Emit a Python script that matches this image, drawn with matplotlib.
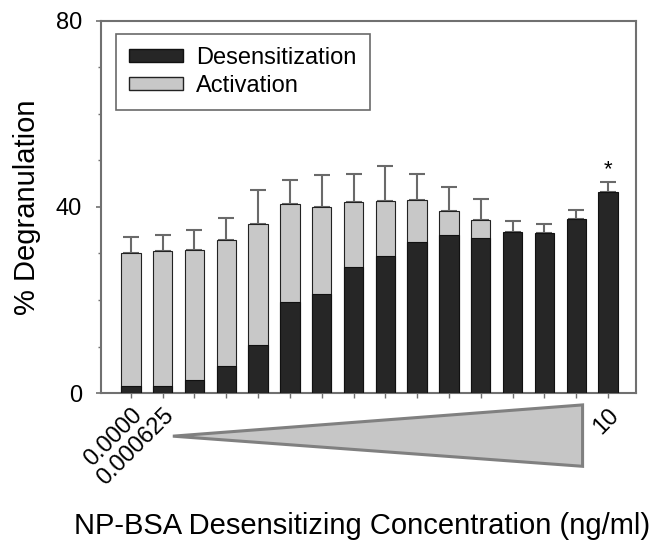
import numpy as np
import matplotlib
matplotlib.use("Agg")
import matplotlib.pyplot as plt
from matplotlib.patches import Patch, Polygon
import matplotlib.transforms as mtransforms

plt.rcParams['font.family'] = ['Liberation Sans', 'DejaVu Sans']

# Data
desensitization = [1.6, 1.4, 2.9, 5.9, 10.4, 19.5, 21.3, 27.0, 29.4, 32.5, 34.0, 33.4, 34.6, 34.3, 37.4, 43.2]
activation = [30.2, 30.6, 30.7, 32.8, 36.4, 40.7, 40.1, 41.1, 41.3, 41.6, 39.1, 37.3,
              np.nan, np.nan, np.nan, np.nan]
errors = [3.3, 3.3, 4.4, 4.8, 7.2, 5.0, 6.7, 6.0, 7.6, 5.5, 5.2, 4.5, 2.4, 2.0, 2.0, 2.1]
tick_labels = ["0.0000", "0.000625", "", "", "", "", "", "", "", "", "", "", "", "", "", "10"]
significant = [False] * 15 + [True]

x = np.arange(len(desensitization))
des = np.array(desensitization)
act = np.array(activation)
top = np.where(np.isnan(act), des, np.fmax(act, des))

fig = plt.figure(figsize=(6.63, 5.42), dpi=100)
ax = fig.add_axes([0.1523, 0.2749, 0.8070, 0.6864])

spine_col = '#707070'
w = 0.61
ax.bar(x, np.nan_to_num(act), width=w, color='#c8c8c8', edgecolor='#222222', linewidth=0.8, zorder=2)
ax.bar(x, des, width=w, color='#262626', edgecolor='#111111', linewidth=0.8, zorder=3)
ax.errorbar(x, top, yerr=[np.zeros_like(top), np.array(errors)], fmt='none',
            ecolor='#6a6a6a', elinewidth=1.5, capsize=5.5, capthick=1.5, zorder=1)

for xi, t, e, s in zip(x, top, errors, significant):
    if s:
        ax.text(xi, t + e + 0.5, '*', ha='center', va='bottom', fontsize=16)

ax.set_xlim(-0.94, 15.88)
ax.set_ylim(0, 80)
ax.set_yticks([0, 40, 80])
ax.set_yticks(np.arange(0, 81, 10), minor=True)
ax.set_xticks(x)
ax.set_xticklabels(tick_labels, rotation=45, ha='right', va='top', rotation_mode='anchor', fontsize=17)
ax.tick_params(axis='y', which='major', length=3.6, width=1.2, color=spine_col, labelsize=17, pad=10)
ax.tick_params(axis='y', which='minor', length=2, width=1.0, color=spine_col)
ax.tick_params(axis='x', which='major', length=3.6, width=1.0, color=spine_col, pad=4.5)

for sp in ax.spines.values():
    sp.set_color(spine_col)
    sp.set_linewidth(1.5)

ax.set_ylabel('% Degranulation', fontsize=21)
ax.yaxis.set_label_coords(-0.113, 0.5)
fig.text(0.546, 0.004, 'NP-BSA Desensitizing Concentration (ng/ml)', ha='center', va='bottom', fontsize=21)

# Concentration wedge
trans = mtransforms.blended_transform_factory(ax.transData, ax.transAxes)
tri = Polygon([[1.32, -0.116], [14.2, -0.032], [14.2, -0.197]], closed=True,
              facecolor='#c6c6c6', edgecolor='#808080', linewidth=2.2,
              transform=trans, clip_on=False, zorder=5)
ax.add_patch(tri)

handles = [Patch(facecolor='#262626', edgecolor='#111111', label='Desensitization'),
           Patch(facecolor='#c8c8c8', edgecolor='#222222', label='Activation')]
leg = ax.legend(handles=handles, loc='upper left', bbox_to_anchor=(0.028, 0.965),
                fontsize=17, frameon=True, fancybox=False, edgecolor='#444444',
                handlelength=2.3, handleheight=0.45, borderpad=0.55, labelspacing=0.25,
                handletextpad=0.55, borderaxespad=0)
leg.get_frame().set_linewidth(1.2)

fig.savefig('out.png', dpi=100)
